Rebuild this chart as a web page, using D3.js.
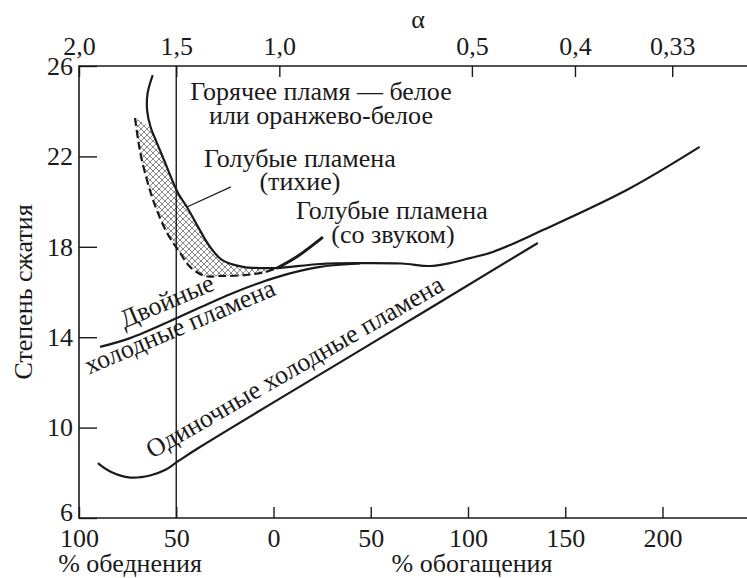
<!DOCTYPE html>
<html>
<head>
<meta charset="utf-8">
<script src="https://cdn.jsdelivr.net/npm/d3@7"></script>
<style>
  body { margin: 0; background: #fff; }
  text { font-family: "Liberation Serif", "Times New Roman", serif; fill: #1a1a1a; }
</style>
</head>
<body>
<script>
// ---- data (x: % lean negative / % rich positive, y: compression ratio) ----
const bottomTicks = [-100, -50, 0, 50, 100, 150, 200];
const alphaLabels = ["2,0", "1,5", "1,0", "0,5", "0,4", "0,33"];
const alphaAt = [-100, -50, 3, 102, 155, 205];
const yTicks = [6, 10, 14, 18, 22, 26];

const hotFlame = [[-62.1, 25.60], [-64.7, 24.81], [-65.0, 24.05], [-63.2, 23.30], [-59.9, 22.59],
  [-56.3, 21.84], [-49.1, 20.38], [-44.5, 19.76], [-38.8, 18.88], [-32.6, 17.99], [-26.5, 17.42],
  [-15.7, 17.11], [-6.9, 17.06], [1.8, 17.06], [23.9, 17.24], [44.5, 17.28], [66, 17.26],
  [80.4, 17.15], [90.7, 17.28], [101, 17.5], [112.8, 17.77], [138.5, 18.74], [181.6, 20.51],
  [219.1, 22.42]];
const quietEdge = [[-71.2, 23.70], [-69.6, 22.73], [-67.7, 21.84], [-61.9, 20.07], [-54.7, 18.61],
  [-48.0, 17.73], [-42.9, 17.11], [-35.2, 16.71], [-27.5, 16.71], [-14.6, 16.75], [-4.4, 16.88],
  [1.8, 17.06]];
const soundBranch = [[1.8, 17.06], [12, 17.56], [25.4, 18.43]];
const doubleCold = [[-89.2, 13.57], [-73.7, 13.96], [-49.6, 14.85], [-20.8, 15.96], [1.8, 16.66],
  [23.9, 17.11], [44.5, 17.26]];
const singleCold = [[-90.3, 8.43], [-84.0, 8.06], [-73.7, 7.79], [-63.5, 7.88], [-55.8, 8.12],
  [-49.6, 8.48], [-37.8, 9.14], [49.6, 13.68], [135.9, 18.17]];

const notes = [
  { t: "Горячее пламя — белое", x: 24.4, y: 24.50 },
  { t: "или оранжево-белое", x: 24.4, y: 23.43 },
  { t: "Голубые пламена", x: 13.6, y: 21.53 },
  { t: "(тихие)", x: 13.6, y: 20.51 },
  { t: "Голубые пламена", x: 60.9, y: 19.23 },
  { t: "(со звуком)", x: 61.4, y: 18.17 }
];
const curveLabels = [
  { t: "Двойные", x: -53.2, y: 15.25, a: -23 },
  { t: "холодные пламена", x: -46.5, y: 14.12, a: -23 },
  { t: "Одиночные холодные пламена", x: 13.1, y: 12.36, a: -30 }
];
const leader = [[-44.5, 19.76], [-21.9, 20.65]];

// ---- layout ----
const W = 747, H = 578;
const mLeft = 79, mTop = 66, mBottom = 518;
const serif = '"Liberation Serif", "Times New Roman", serif';
const ink = '#1a1a1a';

const x = d3.scaleLinear().domain([-100, 200]).range([mLeft, 662.5]);
const y = d3.scaleLinear().domain([6, 26]).range([mBottom, mTop]);

const svg = d3.select('body').append('svg')
  .attr('width', W).attr('height', H);

const defs = svg.append('defs');
const pat = defs.append('pattern')
  .attr('id', 'hatch').attr('patternUnits', 'userSpaceOnUse')
  .attr('width', 6).attr('height', 6);
pat.append('path').attr('d', 'M0,0L6,6M6,0L0,6M-1,5L1,7M5,-1L7,1M-1,1L1,-1M5,7L7,5')
  .attr('stroke', '#8a8a8a').attr('stroke-width', 1);

const line = d3.line().x(d => x(d[0])).y(d => y(d[1])).curve(d3.curveCatmullRom.alpha(0.5));

// hatched region between dashed edge and hot-flame boundary
const hotTop = hotFlame.filter(d => d[0] <= 1.8 && d[1] <= 23.5).reverse();
svg.append('path')
  .attr('d', line(quietEdge.concat(hotTop)) + 'Z')
  .attr('fill', 'url(#hatch)').attr('stroke', 'none');

// axes
const fs = 26;
const gLeft = svg.append('g').attr('transform', `translate(${mLeft},0)`)
  .call(d3.axisLeft(y).tickValues(yTicks).tickSize(-18).tickSizeOuter(0).tickPadding(6));
const gBottom = svg.append('g').attr('transform', `translate(0,${mBottom})`)
  .call(d3.axisBottom(x).tickValues(bottomTicks).tickFormat(d => Math.abs(d))
    .tickSize(-11).tickSizeOuter(0).tickPadding(11));
const gTop = svg.append('g').attr('transform', `translate(0,${mTop})`)
  .call(d3.axisTop(x).tickValues(alphaAt).tickFormat((d, i) => alphaLabels[i])
    .tickSize(-11).tickSizeOuter(0).tickPadding(11));

[gLeft, gBottom, gTop].forEach(g => {
  g.attr('font-family', serif).attr('font-size', fs);
  g.select('.domain').remove();
  g.selectAll('line').attr('stroke', ink).attr('stroke-width', 1.4);
  g.selectAll('text').attr('font-size', fs).attr('font-family', serif).attr('fill', ink);
});
gLeft.selectAll('.tick').filter(d => d === 6).select('text').attr('dy', '0.1em');

// frame lines (left, top, bottom to page edge)
svg.append('path')
  .attr('d', `M${W},${mTop}H${mLeft}V${mBottom}H${W}`)
  .attr('fill', 'none').attr('stroke', ink).attr('stroke-width', 1.6);

// vertical line at 50% lean (alpha 1.5)
svg.append('line')
  .attr('x1', x(-50)).attr('x2', x(-50)).attr('y1', y(26)).attr('y2', y(6))
  .attr('stroke', ink).attr('stroke-width', 1.4);

// curves
svg.append('path').attr('d', line(quietEdge)).attr('fill', 'none')
  .attr('stroke', ink).attr('stroke-width', 2.2).attr('stroke-dasharray', '8,4');
svg.append('path').attr('d', line(hotFlame)).attr('fill', 'none')
  .attr('stroke', ink).attr('stroke-width', 2.2);
svg.append('path').attr('d', line(soundBranch)).attr('fill', 'none')
  .attr('stroke', ink).attr('stroke-width', 3);
svg.append('path').attr('d', line(doubleCold)).attr('fill', 'none')
  .attr('stroke', ink).attr('stroke-width', 2.2);
svg.append('path').attr('d', line(singleCold)).attr('fill', 'none')
  .attr('stroke', ink).attr('stroke-width', 2.2);

// leader line
svg.append('line')
  .attr('x1', x(leader[0][0])).attr('y1', y(leader[0][1]))
  .attr('x2', x(leader[1][0])).attr('y2', y(leader[1][1]))
  .attr('stroke', ink).attr('stroke-width', 1.2);

// annotations
svg.selectAll('text.note').data(notes).enter().append('text')
  .attr('class', 'note')
  .attr('x', d => x(d.x)).attr('y', d => y(d.y))
  .attr('text-anchor', 'middle').attr('font-size', fs).attr('font-family', serif)
  .text(d => d.t);

svg.selectAll('text.clabel').data(curveLabels).enter().append('text')
  .attr('class', 'clabel')
  .attr('transform', d => `translate(${x(d.x)},${y(d.y)}) rotate(${d.a})`)
  .attr('text-anchor', 'middle').attr('font-size', fs).attr('font-family', serif)
  .text(d => d.t);

// axis titles
const title = (t, tx, ty, rot) => svg.append('text')
  .attr('transform', `translate(${tx},${ty})` + (rot ? ` rotate(${rot})` : ''))
  .attr('text-anchor', 'middle').attr('font-size', fs).attr('font-family', serif)
  .text(t);
title('α', 418, 28);
title('% обеднения', 130, 572);
title('% обогащения', 472, 572);
title('Степень сжатия', 32, 292, -90);
</script>
</body>
</html>
